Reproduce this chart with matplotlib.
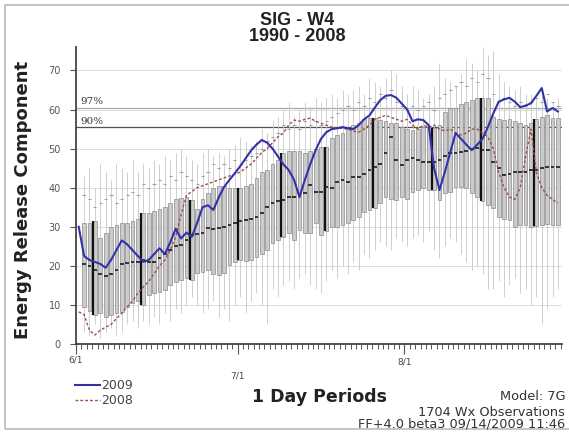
import matplotlib.pyplot as plt
from matplotlib.lines import Line2D
from matplotlib.patches import Rectangle

plt.rcParams['font.family'] = 'DejaVu Sans'

# day slots, 6/1 = day 0; boxes sit in the middle of each day slot
days = list(range(1, 90))

box_hi = [31, 31, 31.5, 27, 28.5, 30, 30.5, 31, 31, 31.5,
          32, 33.5, 33.5, 34, 34.5, 35, 36, 37, 37.3, 37.5,
          36.8, 34.5, 37, 38.6, 40, 40.5, 40.5, 40, 40, 40,
          40.5, 41, 42.5, 44, 44.5, 46, 47, 49, 49.5, 49.5,
          49.5, 49, 49.5, 50, 50.4, 50.4, 52.7, 53.5, 54, 55,
          56, 56.5, 57.5, 57.8, 57.8, 57.3, 57, 56.5, 56.5, 55.5,
          55, 54.7, 55, 55.5, 55.5, 55.2, 56, 59.3, 60.4, 60.5,
          61.5, 62, 62.4, 62.9, 63, 63, 58, 57.5, 57.3, 57.5,
          57, 56.5, 56, 56.5, 57.5, 58, 58.6, 57.8, 57.8]

box_lo = [9.5, 8.5, 7.4, 8, 7, 7.5, 8, 8.2, 9.5, 10.4,
          11, 10, 12.5, 13, 13.3, 13.8, 15, 15.9, 16.5, 16.9,
          16.4, 18.1, 18.3, 18.9, 18, 17.6, 18.1, 20.2, 21, 21.5,
          21.2, 21.5, 22.3, 23, 24, 25.8, 26.6, 27.5, 28.4, 26.6,
          29.2, 28.4, 28.5, 30.9, 27.9, 29, 30, 30, 30.5, 31,
          31.7, 32.5, 33.8, 34.3, 34.8, 36, 37.6, 37, 36.8, 37.6,
          37, 38.9, 39.4, 40, 39.4, 39.4, 36.8, 38.6, 38.8, 40.2,
          40.2, 40, 38.6, 37.6, 36.5, 35.5, 34.8, 32.5, 32, 31.7,
          30, 30.5, 30.4, 30, 30.2, 30.4, 30.8, 30.4, 30.4]

box_med = [20.5, 20, 19, 18, 17.5, 18, 19, 20.5, 20.7, 21,
           21, 21.5, 21, 21, 22, 23, 24, 25, 25.3, 26.5,
           27.9, 28.2, 28.4, 29.7, 29.5, 29.7, 30, 30.5, 30.9, 31.5,
           31.7, 32, 32.5, 33.5, 35, 36, 36.5, 36.8, 37.6, 37.6,
           38, 38.6, 40.7, 39, 38.9, 40.2, 40, 41.4, 41.9, 41.4,
           42.7, 42.7, 43.5, 44.5, 45.3, 46, 49, 53, 47, 45.8,
           47, 47.6, 47, 46.5, 46.5, 46.5, 47, 48, 48.8, 49,
           49.1, 49.5, 50, 50.1, 49.6, 49.6, 46.5, 45, 43.2, 43.5,
           44, 44, 44, 44.5, 44.5, 45, 45.3, 45.3, 45.3]

p90 = [38, 37, 35, 36, 37, 38, 36, 37, 38, 39,
       38, 41, 40, 41, 42, 41, 43, 42, 44, 43,
       42, 41, 43, 44, 46, 45, 46, 45, 47, 46,
       47, 48, 49, 50, 52, 53, 54, 56, 55, 56,
       55, 57, 56, 57, 56, 57, 58, 59, 60, 61,
       60, 62, 61, 63, 62, 64, 63, 65, 62, 61,
       60, 61, 60, 61, 62, 60, 63, 64, 65, 66,
       67, 66, 68, 67, 69, 68, 64, 62, 63, 62,
       61, 62, 61, 62, 63, 62, 64, 62, 61]

whisk_max = [43, 45, 40, 46, 44, 42, 46, 45, 44, 47,
             44, 46, 45, 47, 46, 48, 47, 49, 50, 48,
             47, 46, 49, 50, 48, 49, 48, 50, 51, 53,
             52, 51, 52, 55, 54, 57, 58, 60, 62, 58,
             60, 62, 61, 63, 62, 63, 64, 63, 65, 64,
             65, 66, 64, 68, 67, 66, 68, 70, 69, 66,
             64, 66, 65, 63, 64, 66, 72, 68, 67, 66,
             69, 73, 72, 70, 76, 74, 75, 69, 67, 66,
             65, 66, 64, 64, 63, 64, 63, 62, 63]

whisk_min = [3, 2, 5, 1.5, 3, 4, 2, 3, 5, 6,
             4, 6, 5, 7, 5, 8, 6, 9, 8, 10,
             12, 10, 8, 9, 11, 7, 9, 6, 10, 12,
             8, 11, 13, 10, 5, 14, 12, 15, 16, 14,
             17, 18, 15, 14, 13, 16, 19, 17, 20, 18,
             21, 19, 23, 22, 24, 26, 25, 24, 27, 26,
             25, 27, 28, 26, 29, 24, 22, 25, 27, 26,
             23, 21, 19, 20, 18, 14, 14, 16, 12, 15,
             17, 13, 14, 10, 12, 5, 9, 12, 14]

dark_days = [3, 12, 21, 30, 38, 46, 55, 66, 75, 85]

line_days = list(range(0, 90))
erc_2009 = [30, 22.5, 21.5, 21, 20.5, 19.5, 21.5, 24, 26.5, 25.5,
            24, 22.5, 21, 21.5, 23, 24.5, 23, 26, 29.5, 27,
            28.5, 27.4, 31, 35, 35.5, 34.3, 37.5, 40.2, 42, 43.7,
            45.5, 47.5, 49.5, 51, 52.2, 51.5, 50, 48, 46, 44.5,
            42, 37.6, 42, 46, 49.6, 52.5, 54.2, 55, 55.2, 55.5,
            55.2, 55, 56, 57.5, 58.5, 60.5, 62.4, 63.5, 63.7, 63,
            61.5, 60, 57, 57.5, 57.3, 56, 45, 39.4, 44, 49,
            54, 52.5, 51, 49.6, 51, 52.5, 55.5, 59, 62, 62.6,
            63, 62, 60.6, 61, 61.6, 63.5, 65.5, 59.5, 60.4, 59.5]
erc_2008 = [8.2, 7.5, 3.5, 2.3, 3.5, 4.3, 5, 6.5, 7.9, 9.5,
            11, 13, 14.6, 16, 18, 20, 21.5, 24, 27.4, 33,
            38, 39, 40, 40.5, 41, 41.5, 42, 42.5, 43, 43.5,
            44, 45, 46, 47.5, 49, 50, 51.5, 53, 54, 56,
            57.3, 57, 57.5, 57.8, 57, 56.5, 56, 55.5, 55.2, 55.2,
            55, 54.5, 54.2, 55, 56, 57.5, 58, 58.5, 58, 57.5,
            57, 57.5, 56, 55, 56, 55.5, 56, 55, 54.5, 55,
            54, 53.5, 54, 55, 55, 54, 53, 50, 44, 40,
            37.6, 37, 40, 48, 55, 44, 40, 38, 37, 36]

pct_97 = 60.4
pct_90 = 55.5

month_ticks = [0, 30, 61]
month_labels = ['6/1', '7/1', '8/1']

fig = plt.figure(figsize=(5.69, 4.34), dpi=100)
ax = fig.add_axes([0.1336, 0.2074, 0.854, 0.6843])

pos = [d + 0.5 for d in days]
lpos = [d + 0.5 for d in line_days]
w = 0.7

for yv in range(10, 80, 10):
    ax.axhline(yv, color='#dcdcdc', lw=0.7, zorder=0)
ax.axhline(pct_97, color='#a8a8a8', lw=0.9, zorder=1)
ax.axhline(pct_90, color='#505050', lw=0.9, zorder=1)

ax.vlines(pos, whisk_min, whisk_max, color='#c8c8c8', lw=0.6, zorder=1)
ax.hlines(p90, [p - 0.3 for p in pos], [p + 0.3 for p in pos],
          color='#a0a0a0', lw=0.8, zorder=1)
ax.bar(pos, [h - l for h, l in zip(box_hi, box_lo)], bottom=box_lo, width=w,
       color='#cbcbcb', edgecolor='#8c8c8c', lw=0.5, zorder=2)
for d in dark_days:
    i = days.index(d)
    ax.vlines(pos[i] - w / 2, box_lo[i], box_hi[i], color='#111111', lw=1.6, zorder=3)
ax.hlines(box_med, [p - w / 2 for p in pos], [p + w / 2 for p in pos],
          color='#1a1a1a', lw=1.2, zorder=3)

ax.plot(lpos, erc_2008, color='#9a5048', lw=1.0, ls=(0, (2, 1.5)), zorder=4)
ax.plot(lpos, erc_2009, color='#3232a8', lw=1.5, zorder=5)

ax.text(0.9, pct_97 + 0.4, '97%', family='DejaVu Serif', fontsize=7.5,
        color='#333333', va='bottom', ha='left')
ax.text(0.9, pct_90 + 0.4, '90%', family='DejaVu Serif', fontsize=7.5,
        color='#333333', va='bottom', ha='left')

ax.set_xlim(0.74, 90.25)
ax.set_ylim(0, 76)
ax.set_yticks(range(0, 80, 10))
ax.tick_params(axis='y', direction='out', length=4, width=0.8, colors='#555555',
               labelsize=7, labelcolor='#555555', pad=7)
ax.set_xticks(month_ticks)
ax.set_xticks([d for d in range(1, 91)], minor=True)
ax.tick_params(axis='x', which='major', direction='out', length=7, width=0.8,
               colors='#555555', labelbottom=False)
ax.tick_params(axis='x', which='minor', direction='out', length=3.5, width=0.7,
               colors='#555555')
for s in ['top', 'right']:
    ax.spines[s].set_visible(False)
for s in ['left', 'bottom']:
    ax.spines[s].set_color('#444444')
    ax.spines[s].set_linewidth(1.3)

# month labels are staggered in the original
lab_y = [-0.054, -0.108, -0.061]
xt = ax.get_xaxis_transform()
for m, lab, yy in zip(month_ticks, month_labels, lab_y):
    ax.text(m, yy, lab, transform=xt, fontsize=6.5, color='#444444',
            ha='center', va='center', clip_on=False)

fig.text(0.522, 0.952, 'SIG - W4', family='Liberation Sans', weight='bold',
         fontsize=13, ha='center', va='center', color='#222222')
fig.text(0.522, 0.915, '1990 - 2008', family='Liberation Sans', weight='bold',
         fontsize=13, ha='center', va='center', color='#222222')
fig.text(0.041, 0.539, 'Energy Release Component', rotation=90, weight='bold',
         fontsize=13, ha='center', va='center', color='#222222')
fig.text(0.562, 0.0853, '1 Day Periods', weight='bold', fontsize=12.5,
         ha='center', va='center', color='#222222')

fig.text(0.993, 1 - 396 / 434, 'Model: 7G', fontsize=9.3, ha='right', va='center', color='#333333')
fig.text(0.993, 1 - 412 / 434, '1704 Wx Observations', fontsize=9.3, ha='right', va='center', color='#333333')
fig.text(0.993, 1 - 424 / 434, 'FF+4.0 beta3 09/14/2009 11:46', fontsize=9.3, ha='right',
         va='center', color='#333333')

handles = [Line2D([], [], color='#3232a8', lw=1.5),
           Line2D([], [], color='#9a5048', lw=1.0, ls=(0, (2, 1.5)))]
leg = fig.legend(handles, ['2009', '2008'], loc='upper left',
                 bbox_to_anchor=(75 / 569, 1 - 379 / 434), frameon=False,
                 fontsize=9, handlelength=2.0, handletextpad=0.1,
                 labelspacing=0.2, borderpad=0, borderaxespad=0)
for t in leg.get_texts():
    t.set_color('#444444')

fig.patches.append(Rectangle((5 / 569, 1 - 429 / 434), 1.2, 424 / 434,
                             transform=fig.transFigure, fill=False,
                             edgecolor='#bbbbbb', lw=1.2))

fig.savefig('out.png', dpi=100)
